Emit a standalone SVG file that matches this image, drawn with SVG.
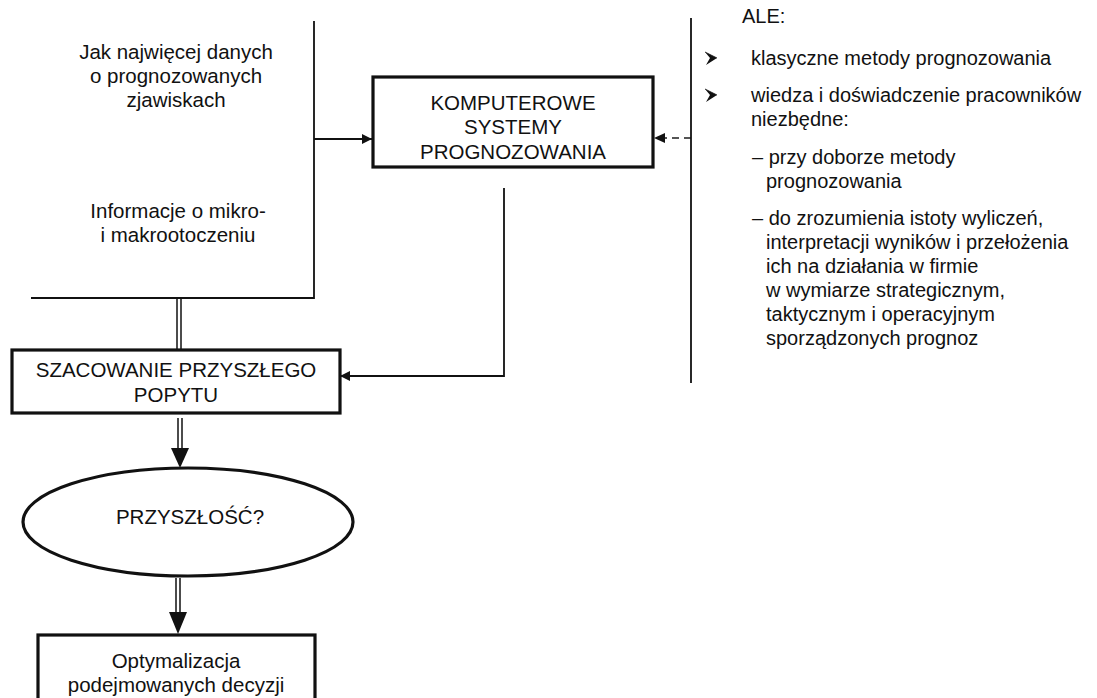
<svg xmlns="http://www.w3.org/2000/svg" width="1097" height="698" viewBox="0 0 1097 698">
  <style>
    .t { font-family: "Liberation Sans", Arial, sans-serif; font-size: 20px; fill: #111; }
    .l { font-size: 20.5px; }
    .c { text-anchor: middle; }
    .box { fill: #fff; stroke: #111; stroke-width: 3.2; }
    .ln { fill: none; stroke: #111; stroke-width: 1.8; }
    .dbl { fill: none; stroke: #111; stroke-width: 1.5; }
    .dash { fill: none; stroke: #555; stroke-width: 2; stroke-dasharray: 7 5; }
  </style>
  <defs>
    <marker id="ah" viewBox="0 0 10 10" refX="10" refY="5" markerWidth="10" markerHeight="10" markerUnits="userSpaceOnUse" orient="auto">
      <path d="M0,0 L10,5 L0,10 z" fill="#111"/>
    </marker>
    <!-- list bullet: arrowhead pointing right -->
    <g id="bullet">
      <path d="M0,0 L12,6 L1,13 L5,6 z" fill="#111"/>
      <path d="M0,0 L12,6" stroke="#111" stroke-width="0.8"/>
    </g>
  </defs>
  <rect width="1097" height="698" fill="#fff"/>

  <!-- input bracket with the two data sources -->
  <g id="inputs">
    <path class="ln" d="M314,21 V298 H31"/>
    <text class="t l c" x="176" y="59">Jak najwięcej danych</text>
    <text class="t l c" x="176" y="83">o prognozowanych</text>
    <text class="t l c" x="176" y="107">zjawiskach</text>
    <text class="t l c" x="178" y="218">Informacje o mikro-</text>
    <text class="t l c" x="178" y="242">i makrootoczeniu</text>
  </g>

  <g id="connectors">
    <!-- inputs to forecasting systems -->
    <line class="ln" x1="314" y1="139" x2="372" y2="139" marker-end="url(#ah)"/>
    <!-- knowledge feedback (dashed) -->
    <line class="dash" x1="691" y1="138" x2="664" y2="138"/>
    <path d="M654,138 L665,133 L665,143 z" fill="#111"/>
    <!-- forecasting systems to demand estimation -->
    <path class="ln" d="M504,188 V376 H340" marker-end="url(#ah)"/>
    <!-- double connectors along the main flow -->
    <line class="dbl" x1="177" y1="298" x2="177" y2="350"/>
    <line class="dbl" x1="181" y1="298" x2="181" y2="350"/>
    <line class="dbl" x1="178" y1="418" x2="178" y2="450"/>
    <line class="dbl" x1="182" y1="418" x2="182" y2="450"/>
    <path d="M171,448 L189,448 L180,468 z" fill="#111"/>
    <line class="dbl" x1="176" y1="578" x2="176" y2="614"/>
    <line class="dbl" x1="180" y1="578" x2="180" y2="614"/>
    <path d="M169,612 L187,612 L178,634 z" fill="#111"/>
    <!-- right-hand separator -->
    <line class="ln" x1="691" y1="18" x2="691" y2="383"/>
  </g>

  <g id="komputerowe">
    <rect class="box" x="373" y="77" width="280" height="90"/>
    <text class="t l c" x="513" y="110">KOMPUTEROWE</text>
    <text class="t l c" x="513" y="134">SYSTEMY</text>
    <text class="t l c" x="513" y="159">PROGNOZOWANIA</text>
  </g>

  <g id="szacowanie">
    <rect class="box" x="12" y="350" width="328" height="63"/>
    <text class="t l c" x="176" y="377">SZACOWANIE PRZYSZŁEGO</text>
    <text class="t l c" x="176" y="402">POPYTU</text>
  </g>

  <g id="przyszlosc">
    <ellipse class="box" cx="188" cy="522" rx="165" ry="54"/>
    <text class="t l c" x="190" y="524">PRZYSZŁOŚĆ?</text>
  </g>

  <g id="optymalizacja">
    <rect class="box" x="38" y="635" width="277" height="80"/>
    <text class="t l c" x="176" y="668">Optymalizacja</text>
    <text class="t l c" x="176" y="692">podejmowanych decyzji</text>
  </g>

  <g id="ale">
    <text class="t" x="742" y="23">ALE:</text>
    <use href="#bullet" x="705" y="52"/>
    <text class="t" x="751" y="65">klasyczne metody prognozowania</text>
    <use href="#bullet" x="705" y="89"/>
    <text class="t" x="751" y="102">wiedza i doświadczenie pracowników</text>
    <text class="t" x="751" y="126">niezbędne:</text>
    <text class="t" x="752" y="164">– przy doborze metody</text>
    <text class="t" x="766" y="188">prognozowania</text>
    <text class="t" x="752" y="225">– do zrozumienia istoty wyliczeń,</text>
    <text class="t" x="766" y="249">interpretacji wyników i przełożenia</text>
    <text class="t" x="766" y="273">ich na działania w firmie</text>
    <text class="t" x="766" y="297">w wymiarze strategicznym,</text>
    <text class="t" x="766" y="321">taktycznym i operacyjnym</text>
    <text class="t" x="766" y="345">sporządzonych prognoz</text>
  </g>
</svg>
